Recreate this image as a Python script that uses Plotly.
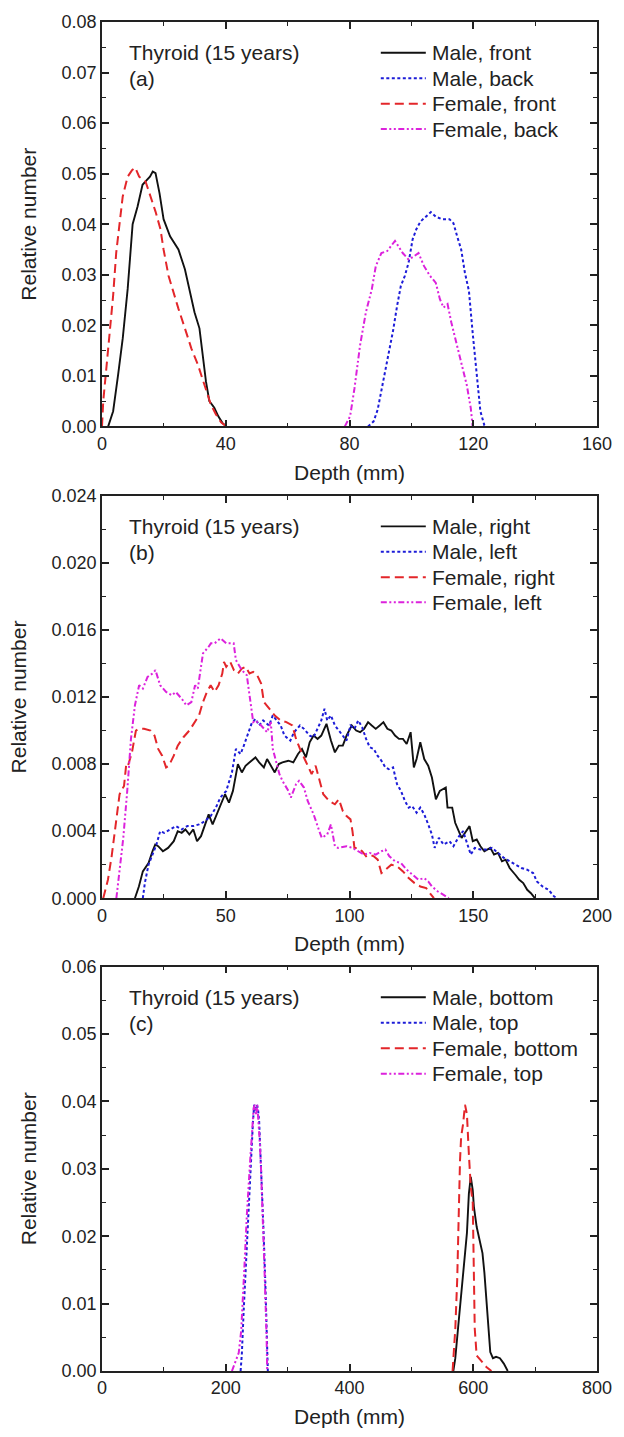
import plotly.graph_objects as go

# ---------------- Panel (a): front / back ----------------
a_male_front_x = [2, 3.6, 5.2, 6.7, 8.3, 9.4, 9.9, 11.5, 13.1, 14.6, 15.5, 16.4, 17.3, 18.6, 19.9, 22.0, 24.7, 26.8, 28.4, 29.9, 31.5, 32.6, 33.6, 34.7, 36.3, 37.6, 38.9, 40.2]
a_male_front_y = [0, 0.003, 0.0102, 0.0174, 0.0272, 0.0363, 0.040, 0.0435, 0.0478, 0.0488, 0.0494, 0.0504, 0.0501, 0.0461, 0.041, 0.0376, 0.035, 0.0311, 0.0269, 0.0226, 0.0194, 0.0141, 0.0089, 0.005, 0.0037, 0.002, 0.0007, 0]

a_female_front_x = [0, 0.4, 2.0, 3.6, 4.6, 5.7, 6.7, 8.3, 9.7, 10.75, 12.0, 14.1, 15.7, 17.3, 18.9, 19.9, 21.5, 23.1, 24.7, 26.8, 28.9, 31.0, 33.1, 35.2, 36.8, 38.5, 40.2]
a_female_front_y = [0, 0.005, 0.0154, 0.0259, 0.0344, 0.0409, 0.0455, 0.0494, 0.0507, 0.0512, 0.0494, 0.0484, 0.0455, 0.0425, 0.039, 0.035, 0.0298, 0.0265, 0.0233, 0.0194, 0.0154, 0.0122, 0.0082, 0.0043, 0.0024, 0.0008, 0]

a_male_back_x = [86, 87.8, 89.1, 90.3, 91.6, 92.8, 94.1, 95.4, 96.6, 97.9, 99.1, 100.4, 101.6, 102.9, 104.8, 106.3, 107.9, 109.8, 112.3, 113.6, 114.8, 116.1, 117.3, 118.6, 119.8, 121.1, 122.3, 123.6, 124]
a_male_back_y = [0, 0.001, 0.0033, 0.0069, 0.0108, 0.0147, 0.019, 0.0239, 0.0278, 0.0298, 0.0324, 0.037, 0.039, 0.0405, 0.0415, 0.0424, 0.0415, 0.041, 0.041, 0.0402, 0.0376, 0.035, 0.0304, 0.0268, 0.0186, 0.0101, 0.003, 0.0002, 0]

a_female_back_x = [78.5, 80.2, 81.6, 83.4, 85.3, 87.2, 88.5, 90.3, 92.2, 94.7, 97.2, 99.1, 101.0, 102.3, 104.1, 106.0, 107.9, 109.2, 110.4, 111.7, 112.9, 114.8, 116.7, 117.9, 119.2, 119.8]
a_female_back_y = [0, 0.002, 0.0075, 0.016, 0.0226, 0.0271, 0.0317, 0.0343, 0.0347, 0.0367, 0.0343, 0.033, 0.0337, 0.0343, 0.0317, 0.0298, 0.0284, 0.0252, 0.0235, 0.0242, 0.0206, 0.016, 0.0114, 0.0082, 0.0036, 0]

# ---------------- Panel (b): right / left ----------------
b_male_right_x = [13.3, 14.9, 16.5, 18.8, 20.4, 21.5, 22.7, 24.6, 26.7, 29.0, 30.6, 32.2, 33.7, 35.3, 36.9, 38.4, 40.0, 41.6, 43.1, 44.7, 46.3, 47.8, 49.7, 51.3, 52.9, 54.9, 56.5, 58.0, 59.6, 62.0, 63.5, 65.4, 66.7, 68.2, 69.8, 71.4, 72.9, 75.3, 77.3, 79.2, 80.8, 82.4, 83.9, 85.5, 87.1, 88.6, 90.7, 92.5, 94.1, 95.7, 97.3, 98.8, 100.9, 102.7, 104.3, 105.9, 107.5, 109.0, 110.6, 112.2, 113.7, 115.3, 116.9, 118.4, 120.0, 121.6, 123.1, 124.7, 126.0, 127.1, 128.6, 130.2, 131.8, 133.3, 134.9, 136.5, 138.9, 139.6, 141.5, 142.7, 145.3, 146.7, 148.5, 149.8, 151.4, 152.9, 154.5, 156.9, 158.4, 160.0, 161.6, 163.1, 164.7, 167.0, 168.6, 170.2, 171.8, 173.3, 174.9]
b_male_right_y = [0, 0.0007, 0.0016, 0.0021, 0.0028, 0.0032, 0.0031, 0.0028, 0.003, 0.0034, 0.004, 0.0039, 0.0041, 0.0038, 0.0041, 0.0034, 0.0037, 0.0044, 0.005, 0.0044, 0.005, 0.0056, 0.0062, 0.0057, 0.0064, 0.008, 0.0075, 0.0079, 0.0081, 0.0084, 0.0081, 0.0078, 0.0083, 0.0079, 0.0075, 0.008, 0.0081, 0.0082, 0.0081, 0.0086, 0.0089, 0.0084, 0.0093, 0.0097, 0.0095, 0.0097, 0.0104, 0.0094, 0.0087, 0.0091, 0.0091, 0.0097, 0.0103, 0.01, 0.0099, 0.0101, 0.0105, 0.0103, 0.0101, 0.0103, 0.0105, 0.0101, 0.01, 0.0097, 0.0095, 0.0095, 0.0092, 0.0099, 0.0078, 0.0083, 0.0093, 0.0083, 0.0079, 0.0072, 0.0059, 0.0064, 0.0066, 0.0054, 0.0054, 0.0045, 0.0036, 0.0039, 0.0043, 0.0034, 0.0035, 0.0031, 0.0028, 0.003, 0.0026, 0.0027, 0.0022, 0.0023, 0.0018, 0.0014, 0.0011, 0.0009, 0.0005, 0.0003, 0]

b_male_left_x = [16.5, 17.3, 18.8, 20.4, 22.0, 23.5, 25.1, 27.5, 29.8, 32.2, 34.5, 36.9, 39.2, 41.6, 43.9, 46.0, 47.8, 50.2, 52.5, 54.1, 56.0, 57.3, 58.8, 60.4, 62.0, 63.5, 65.1, 67.5, 69.0, 70.6, 72.2, 73.7, 76.1, 77.6, 80.0, 81.6, 83.9, 85.5, 87.1, 88.6, 89.9, 91.0, 92.5, 94.1, 95.7, 97.3, 98.8, 100.4, 102.0, 103.5, 105.1, 106.7, 108.2, 109.8, 111.3, 112.9, 114.5, 115.9, 117.6, 119.2, 120.8, 122.4, 123.9, 125.3, 127.1, 128.6, 130.2, 131.8, 133.3, 134.4, 136.1, 138.0, 140.4, 142.0, 144.3, 145.9, 147.5, 149.0, 150.6, 152.9, 155.3, 157.6, 160.0, 162.4, 164.7, 167.0, 169.4, 171.8, 174.2, 175.7, 178.0, 180.4, 182.7, 184.0]
b_male_left_y = [0, 0.0009, 0.002, 0.0026, 0.0032, 0.004, 0.0039, 0.0041, 0.0043, 0.0041, 0.0043, 0.0043, 0.0044, 0.0046, 0.0049, 0.0054, 0.006, 0.0064, 0.0075, 0.0089, 0.0086, 0.0091, 0.0097, 0.0104, 0.0107, 0.0103, 0.0106, 0.0103, 0.0109, 0.0106, 0.0103, 0.0097, 0.0094, 0.0099, 0.0103, 0.0101, 0.0097, 0.0096, 0.0101, 0.0106, 0.0113, 0.0106, 0.0109, 0.0103, 0.01, 0.0097, 0.0094, 0.0103, 0.0101, 0.0106, 0.0102, 0.0095, 0.009, 0.0089, 0.0085, 0.0082, 0.0078, 0.0077, 0.0078, 0.0068, 0.0064, 0.0058, 0.0054, 0.0055, 0.0051, 0.0054, 0.005, 0.0044, 0.0038, 0.003, 0.0036, 0.0032, 0.0034, 0.0031, 0.0037, 0.004, 0.0032, 0.0026, 0.003, 0.0029, 0.0029, 0.003, 0.0027, 0.0024, 0.0022, 0.002, 0.0018, 0.0017, 0.0015, 0.001, 0.0007, 0.0005, 0.0001, 0]

b_female_right_x = [0.5, 2.4, 3.9, 5.3, 7.1, 8.9, 9.8, 10.5, 12.1, 13.7, 15.0, 17.0, 19.6, 21.2, 22.7, 24.3, 25.9, 27.0, 29.0, 30.6, 32.9, 35.3, 37.6, 39.2, 40.8, 42.4, 43.9, 45.5, 47.1, 48.6, 49.3, 50.2, 51.8, 53.3, 54.9, 56.5, 58.0, 59.6, 61.1, 62.7, 64.3, 65.4, 67.6, 69.8, 72.2, 74.5, 76.9, 78.4, 80.0, 81.6, 83.1, 84.7, 86.3, 87.8, 89.4, 91.8, 94.1, 95.7, 97.3, 98.8, 100.4, 101.2, 102.0, 103.5, 105.1, 106.7, 108.2, 109.8, 111.4, 112.9, 114.5, 116.9, 119.2, 121.6, 123.9, 126.3, 128.6, 131.0, 132.5, 134.1]
b_female_right_y = [0, 0.0011, 0.0025, 0.0042, 0.0062, 0.0067, 0.0080, 0.0079, 0.0087, 0.0100, 0.0101, 0.0101, 0.0100, 0.0097, 0.0089, 0.0085, 0.0078, 0.0079, 0.0085, 0.0091, 0.0096, 0.0100, 0.0105, 0.0109, 0.0117, 0.0123, 0.0127, 0.0123, 0.0127, 0.0134, 0.0141, 0.0138, 0.0141, 0.0136, 0.0134, 0.0137, 0.0138, 0.0134, 0.0135, 0.0133, 0.0128, 0.0117, 0.0113, 0.0109, 0.0106, 0.0105, 0.0103, 0.0095, 0.0089, 0.0084, 0.0079, 0.0074, 0.0079, 0.0070, 0.0062, 0.0058, 0.0056, 0.0059, 0.0052, 0.0049, 0.0047, 0.0040, 0.0030, 0.0030, 0.0028, 0.0025, 0.0026, 0.0025, 0.0023, 0.0015, 0.0017, 0.0020, 0.0019, 0.0016, 0.0012, 0.0009, 0.0007, 0.0006, 0.0003, 0]

b_female_left_x = [5.8, 7.1, 8.6, 10.2, 11.7, 13.3, 15.0, 16.5, 18.4, 20.4, 21.6, 23.5, 25.9, 28.2, 29.8, 32.2, 34.1, 36.1, 37.6, 38.7, 40.8, 43.1, 44.0, 45.5, 47.9, 50.2, 52.5, 53.2, 54.1, 56.5, 58.5, 60.4, 61.1, 62.0, 64.3, 66.7, 68.2, 69.0, 71.7, 72.9, 75.3, 76.3, 78.4, 79.6, 81.6, 83.1, 85.5, 87.8, 88.8, 91.0, 92.5, 94.1, 95.4, 98.8, 101.2, 103.5, 105.9, 108.2, 110.6, 112.9, 114.5, 116.1, 118.4, 120.8, 123.1, 125.5, 127.8, 130.2, 131.8, 133.3, 135.7, 138.0, 140.1]
b_female_left_y = [0, 0.0017, 0.0036, 0.0064, 0.0095, 0.0115, 0.0127, 0.0125, 0.0132, 0.0134, 0.0136, 0.0127, 0.0123, 0.0121, 0.0123, 0.0119, 0.0115, 0.0117, 0.0127, 0.0125, 0.0146, 0.0150, 0.0152, 0.0152, 0.0155, 0.0152, 0.0152, 0.0152, 0.0142, 0.0136, 0.0133, 0.0113, 0.0105, 0.0106, 0.0103, 0.0099, 0.0105, 0.0089, 0.0074, 0.0070, 0.0064, 0.0060, 0.0068, 0.0070, 0.0066, 0.0058, 0.0050, 0.0040, 0.0036, 0.0038, 0.0044, 0.0031, 0.0030, 0.0031, 0.0030, 0.0028, 0.0026, 0.0027, 0.0026, 0.0028, 0.0029, 0.0025, 0.0022, 0.0021, 0.0017, 0.0014, 0.0011, 0.0012, 0.0010, 0.0007, 0.0004, 0.0002, 0]

# ---------------- Panel (c): bottom / top ----------------
c_male_bottom_x = [567.8, 571.0, 575.4, 580.4, 585.4, 589.8, 592.9, 596.0, 599.2, 601.0, 605.5, 610.5, 614.9, 618.0, 621.2, 624.3, 627.5, 631.8, 636.9, 643.1, 649.4, 655.7]
c_male_bottom_y = [0, 0.0019, 0.0063, 0.0116, 0.0165, 0.0205, 0.0263, 0.0288, 0.0268, 0.0244, 0.0214, 0.0195, 0.0175, 0.0146, 0.0107, 0.0063, 0.0028, 0.0019, 0.0021, 0.0019, 0.0011, 0]

c_male_top_x = [224, 226, 229, 232, 235, 238, 241, 244, 246, 248, 250, 252, 254, 256, 258, 261, 264, 266, 268]
c_male_top_y = [0, 0.0025, 0.009, 0.015, 0.021, 0.027, 0.032, 0.037, 0.0395, 0.0385, 0.0395, 0.039, 0.037, 0.033, 0.029, 0.021, 0.013, 0.006, 0]

c_female_bottom_x = [566.6, 571.0, 574.1, 576.0, 578.6, 580.4, 583.5, 586.7, 589.8, 592.9, 596.0, 599.2, 600.5, 602.4, 605.5, 611.8, 621.2, 629.4]
c_female_bottom_y = [0, 0.0063, 0.0136, 0.0224, 0.0312, 0.0347, 0.0366, 0.0395, 0.0381, 0.0322, 0.0273, 0.0249, 0.0136, 0.0063, 0.0023, 0.0016, 0.0006, 0]

c_female_top_x = [210, 216, 221, 225, 228, 231, 234, 237, 240, 243, 245, 247, 249, 251, 253, 255, 257, 260, 263, 266, 267]
c_female_top_y = [0, 0.0015, 0.0027, 0.006, 0.011, 0.017, 0.023, 0.028, 0.032, 0.036, 0.039, 0.0395, 0.038, 0.0395, 0.037, 0.034, 0.030, 0.023, 0.014, 0.005, 0]

panel_labels = ["(a)", "(b)", "(c)"]
title_text = "Thyroid (15 years)"
legend_names = [
    ["Male, front", "Male, back", "Female, front", "Female, back"],
    ["Male, right", "Male, left", "Female, right", "Female, left"],
    ["Male, bottom", "Male, top", "Female, bottom", "Female, top"],
]

FONT = "Arial, Liberation Sans, sans-serif"
TXT = "#222222"
BLACK = "#111111"
BLUE = "#1c1cd8"
RED = "#e3262a"
MAGENTA = "#dc22dc"

styles = [
    dict(color=BLACK, width=1.9, dash="solid"),
    dict(color=BLUE, width=2.0, dash="3px,2.5px"),
    dict(color=RED, width=2.0, dash="9px,5px"),
    dict(color=MAGENTA, width=2.0, dash="6px,2.5px,2px,2.5px,2px,2.5px"),
]

panels = [
    [(a_male_front_x, a_male_front_y), (a_male_back_x, a_male_back_y),
     (a_female_front_x, a_female_front_y), (a_female_back_x, a_female_back_y)],
    [(b_male_right_x, b_male_right_y), (b_male_left_x, b_male_left_y),
     (b_female_right_x, b_female_right_y), (b_female_left_x, b_female_left_y)],
    [(c_male_bottom_x, c_male_bottom_y), (c_male_top_x, c_male_top_y),
     (c_female_bottom_x, c_female_bottom_y), (c_female_top_x, c_female_top_y)],
]

W, H = 624, 1437
ML, MR, MT, MB = 102, 16, 14, 62
PH = H - MT - MB
PANEL_H = 408.0

def ydom(top_px, bot_px):
    return [(H - MB - bot_px) / PH, (H - MB - top_px) / PH]

panel_px = [(14, 422), (492, 898), (967, 1375)]
xranges = [[0, 160], [0, 200], [0, 800]]
xdticks = [40, 50, 200]
yranges = [[0, 0.08], [0, 0.024], [0, 0.06]]
ydticks = [0.01, 0.004, 0.01]
yfmts = [".2f", ".3f", ".2f"]

fig = go.Figure()
for p in range(3):
    xa = "x" if p == 0 else f"x{p+1}"
    ya = "y" if p == 0 else f"y{p+1}"
    for s in range(4):
        xs, ys = panels[p][s]
        fig.add_trace(go.Scatter(
            x=xs, y=ys, mode="lines", name=legend_names[p][s],
            line=styles[s], xaxis=xa, yaxis=ya, showlegend=False,
        ))

layout = dict(
    width=W, height=H,
    margin=dict(l=ML, r=MR, t=MT, b=MB),
    paper_bgcolor="white", plot_bgcolor="white",
    font=dict(family=FONT, size=18, color=TXT),
    showlegend=False,
)

axis_common = dict(
    showline=True, linecolor=TXT, linewidth=1.6, mirror="allticks",
    ticks="inside", ticklen=7, tickwidth=1.5, tickcolor=TXT,
    showgrid=False, zeroline=False,
    tickfont=dict(family=FONT, size=18, color=TXT),
)

for p in range(3):
    sfx = "" if p == 0 else str(p + 1)
    dom = ydom(*panel_px[p])
    layout["xaxis" + sfx] = dict(
        axis_common, domain=[0, 1], range=xranges[p], dtick=xdticks[p], tick0=0,
        anchor="y" + sfx,
        minor=dict(dtick=xdticks[p] / 2, ticks="inside", ticklen=4, tickwidth=1.3, tickcolor=TXT),
        title=dict(text="Depth (mm)", font=dict(family=FONT, size=21, color=TXT), standoff=12),
    )
    layout["yaxis" + sfx] = dict(
        axis_common, domain=dom, range=yranges[p], dtick=ydticks[p], tick0=0,
        tickformat=yfmts[p], anchor="x" + sfx,
        minor=dict(dtick=ydticks[p] / 2, ticks="inside", ticklen=4, tickwidth=1.3, tickcolor=TXT),
        title=dict(text="Relative number", font=dict(family=FONT, size=21, color=TXT), standoff=19),
    )

fig.update_layout(**layout)

# Text labels and per-panel legends (legend key lines drawn in axis-domain coordinates)
PLOT_W = W - ML - MR
key_x0 = (387 - ML) / PLOT_W
key_x1 = (433 - ML) / PLOT_W
text_x = (437 - ML) / PLOT_W
label_x = (128 - ML) / PLOT_W
row_offsets = [31, 56.7, 82.5, 108]

annotations = []
shapes = []
for p in range(3):
    sfx = "" if p == 0 else str(p + 1)
    xref = "x" + sfx + " domain"
    yref = "y" + sfx + " domain"
    annotations.append(dict(text=title_text, x=label_x, y=(PANEL_H - 31) / PANEL_H, xref=xref, yref=yref,
                            xanchor="left", yanchor="middle", showarrow=False,
                            font=dict(family=FONT, size=21, color=TXT)))
    annotations.append(dict(text=panel_labels[p], x=label_x, y=(PANEL_H - 57) / PANEL_H, xref=xref, yref=yref,
                            xanchor="left", yanchor="middle", showarrow=False,
                            font=dict(family=FONT, size=21, color=TXT)))
    for s in range(4):
        yy = (PANEL_H - row_offsets[s]) / PANEL_H
        st = styles[s]
        shapes.append(dict(type="line", xref=xref, yref=yref, x0=key_x0, x1=key_x1, y0=yy, y1=yy,
                           line=dict(color=st["color"], width=st["width"], dash=st["dash"])))
        annotations.append(dict(text=legend_names[p][s], x=text_x, y=yy, xref=xref, yref=yref,
                                xanchor="left", yanchor="middle", showarrow=False,
                                font=dict(family=FONT, size=21, color=TXT)))

fig.update_layout(annotations=annotations, shapes=shapes)

fig.write_html(
    "out.html",
    config={"displayModeBar": False},
    post_script="document.body.style.margin='0';document.documentElement.style.overflow='hidden';",
)
